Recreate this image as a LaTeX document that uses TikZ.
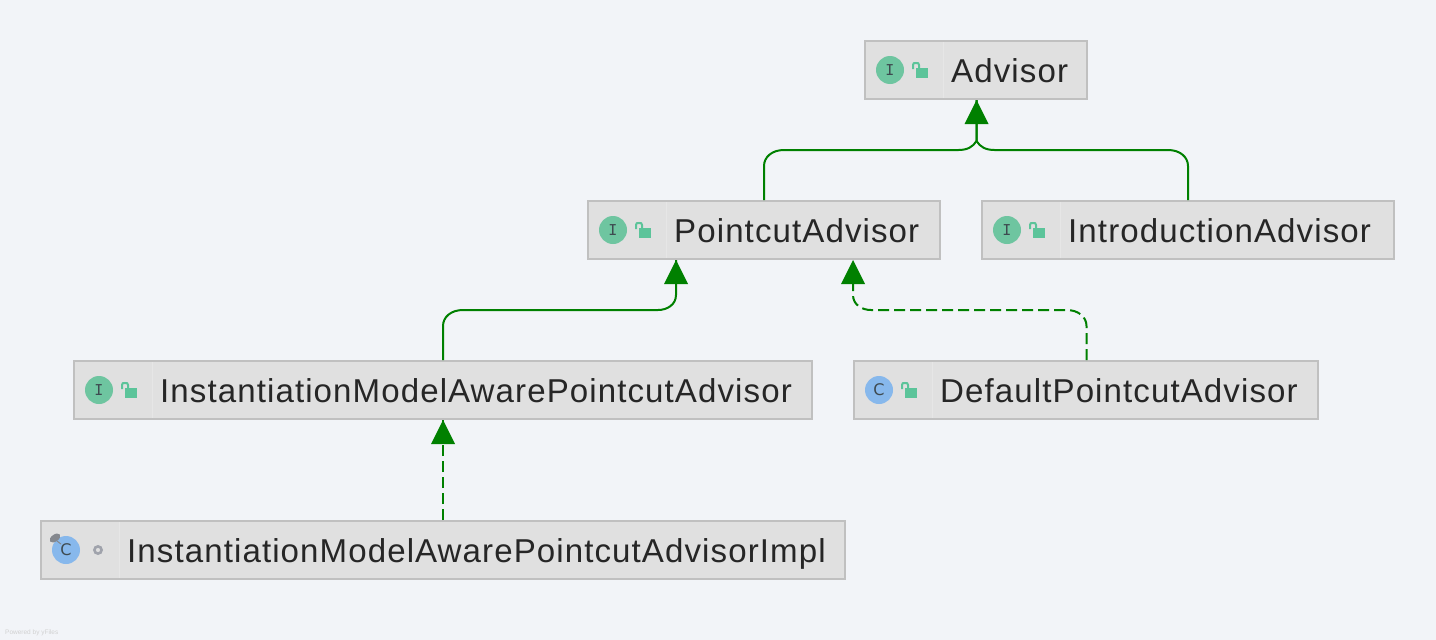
\documentclass[tikz,border=0pt]{standalone}
\usepackage{fontspec}
\setmainfont{Liberation Sans}
\newfontfamily\labelfont[LetterSpace=3.3]{Liberation Sans}
\newfontfamily\iconmono{DejaVu Sans Mono}
\newfontfamily\iconsans{DejaVu Sans}
\usetikzlibrary{calc}
\definecolor{bgc}{HTML}{F2F4F8}
\definecolor{boxfill}{HTML}{E0E0E0}
\definecolor{boxline}{HTML}{C0C0C0}
\definecolor{sepline}{HTML}{E6E6E6}
\definecolor{edgegreen}{HTML}{008000}
\definecolor{ifacec}{HTML}{6EC5A0}
\definecolor{classc}{HTML}{87B8EC}
\definecolor{lockc}{HTML}{5CC49A}
\definecolor{glyphc}{HTML}{3E4A50}
\definecolor{ringc}{HTML}{A0A3AC}
\definecolor{leafc}{HTML}{85888E}
\tikzset{
  x=1pt,y=-1pt,
  umlbox/.style={draw=boxline,fill=boxfill,line width=2pt,inner sep=0pt,outer sep=0pt,anchor=north west},
  umllabel/.style={anchor=base west,inner sep=0pt,text=black!85,font=\labelfont\fontsize{33.07}{33.07}\selectfont},
  kindbadge/.style={circle,inner sep=0pt,outer sep=0pt,minimum size=28pt},
  edge/.style={draw=edgegreen,line width=2pt},
  tip/.style={fill=edgegreen,draw=none},
  dashedge/.style={edge,dash pattern=on 11pt off 5pt},
}
% name, left, top, width, badge colour, badge glyph, label
\newcommand{\classbox}[7]{%
  \node[umlbox,minimum width=#4pt,minimum height=58pt] (#1) at (#2,#3) {};
  \draw[sepline,line width=1pt] ($(#1.north west)+(78,1)$) -- ($(#1.south west)+(78,-1)$);
  \node[kindbadge,fill=#5] (#1-badge) at ($(#1.north west)+(25,29)$) {#6};
  \node[umllabel] (#1-text) at ($(#1.north west)+(86,41)$) {#7};
}
\newcommand{\publiclock}[1]{%
  \fill[lockc] ($(#1.north west)+(51,27)$) rectangle ($(#1.north west)+(63,37)$);
  \draw[lockc,line width=2pt] ($(#1.north west)+(48,28)$) -- ($(#1.north west)+(48,24)$) .. controls ($(#1.north west)+(48,22)$) and ($(#1.north west)+(49,22)$) .. ($(#1.north west)+(51,22)$) .. controls ($(#1.north west)+(53,22)$) and ($(#1.north west)+(54,22)$) .. ($(#1.north west)+(54,24)$) -- ($(#1.north west)+(54,27)$);
}
\newcommand{\ifaceglyph}{{\color{glyphc}\iconmono\fontsize{15}{15}\selectfont I}}
\newcommand{\classglyph}{{\color{glyphc}\iconsans\fontsize{16}{16}\selectfont C}}
\newcommand{\uptip}[1]{\fill[tip] (#1) -- ++(12,24) -- ++(-24,0) -- cycle;}
% style, from, to, level y, tail bend (signed), tip bend (signed), tip rise, splay of the curve's end towards the tip
\newcommand{\stepedge}[8]{%
  \coordinate (bend-a) at (#2 |- 0,#4);
  \coordinate (bend-b) at (#3 |- 0,#4);
  \draw[#1] (#2) -- ($(bend-a)+(0,16)$) .. controls ($(bend-a)+(0,7)$) and ($(bend-a)+(#5*0.4,0)$) .. ($(bend-a)+(#5,0)$)
    -- ($(bend-b)+(#6,0)$) .. controls ($(bend-b)+(#6*0.5,0)$) and ($(bend-b)+(#6*#8,-#7*0.35)$) .. ($(bend-b)+(0,-#7)$) -- (#3);
}
\begin{document}
\begin{tikzpicture}
\useasboundingbox (0,0) rectangle (1436,640);
\fill[bgc] (0,0) rectangle (1436,640);

\classbox{advisor}{865}{41}{222}{ifacec}{\ifaceglyph}{Advisor}
\classbox{pointcut}{588}{201}{352}{ifacec}{\ifaceglyph}{PointcutAdvisor}
\classbox{intro}{982}{201}{412}{ifacec}{\ifaceglyph}{IntroductionAdvisor}
\classbox{aware}{74}{361}{738}{ifacec}{\ifaceglyph}{InstantiationModelAwarePointcutAdvisor}
\classbox{default}{854}{361}{464}{classc}{\classglyph}{DefaultPointcutAdvisor}
\classbox{impl}{41}{521}{804}{classc}{\classglyph}{InstantiationModelAwarePointcutAdvisorImpl}

\publiclock{advisor}
\publiclock{pointcut}
\publiclock{intro}
\publiclock{aware}
\publiclock{default}
\draw[ringc,line width=2.6pt] ($(impl.north west)+(57,29)$) circle[radius=3.6];
\fill[leafc,shift={($(impl-badge)+(-11,-12)$)},rotate=35] (0,0) ellipse[x radius=6,y radius=3.5];
\draw[leafc,line width=1pt] ($(impl-badge)+(-9,-9)$) -- ($(impl-badge)+(-5,-6)$);

% edges
\coordinate (advisor-in) at ($(advisor.south west)+(111.5,1)$);
\coordinate (pointcut-out) at ($(pointcut.north west)+(176,-1)$);
\coordinate (intro-out) at ($(intro.north west)+(206,-1)$);
\coordinate (pointcut-in1) at ($(pointcut.south west)+(88,1)$);
\coordinate (pointcut-in2) at ($(pointcut.south west)+(265,1)$);
\coordinate (aware-out) at ($(aware.north west)+(369,-1)$);
\coordinate (default-out) at ($(default.north west)+(232.5,-1)$);
\coordinate (aware-in) at ($(aware.south west)+(369,1)$);
\coordinate (impl-out) at ($(impl.north west)+(402,-1)$);

\stepedge{edge}{pointcut-out}{advisor-in}{150}{20}{-18}{9}{0.2}
\stepedge{edge}{intro-out}{advisor-in}{150}{-20}{18}{9}{0.2}
\uptip{advisor-in}
\stepedge{edge}{aware-out}{pointcut-in1}{310}{20}{-18}{15}{0}
\uptip{pointcut-in1}
\stepedge{dashedge}{default-out}{pointcut-in2}{310}{-20}{18}{15}{0}
\uptip{pointcut-in2}
\draw[dashedge] (impl-out) -- (aware-in);
\uptip{aware-in}

\node[anchor=base west,inner sep=0pt,text=black!18,font=\fontsize{6.5}{6.5}\selectfont] (credit) at (5,634) {Powered by yFiles};
\end{tikzpicture}
\end{document}
